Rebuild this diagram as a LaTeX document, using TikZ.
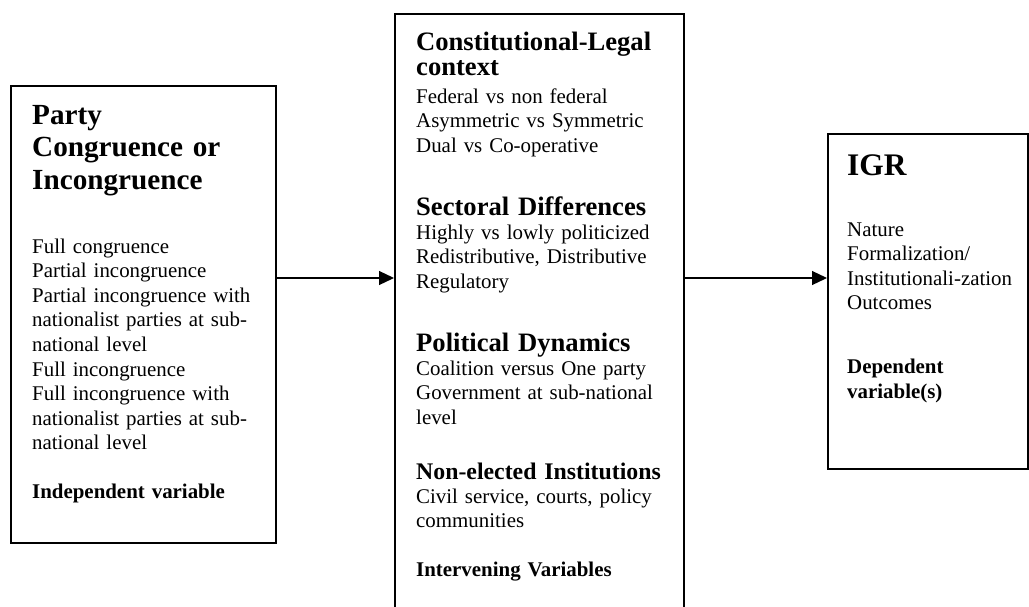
\documentclass[tikz,border=0pt]{standalone}
\usepackage{fontspec}
\setmainfont{Liberation Serif}
\usetikzlibrary{arrows.meta}

\begin{document}
\begin{tikzpicture}[x=1pt, y=-1pt,
    box/.style={draw, line width=1.6pt, inner sep=0pt, anchor=north west},
    txt/.style={anchor=base west, inner sep=0pt, align=left, font=\fontsize{20.9}{24.6}\selectfont},
    head/.style={txt, font=\fontsize{26.6}{25}\selectfont\bfseries},
    note/.style={txt, font=\fontsize{20.9}{25}\selectfont\bfseries},
    link/.style={line width=1.2pt, -{Triangle[length=15pt, width=14pt]}}]
    % page frame
    \path[use as bounding box] (0,0) rectangle (1029,606);
    \clip (0,0) rectangle (1029,606);

    % the three boxes
    \node[box, minimum width=265, minimum height=457] (party) at (10,85) {};
    \node[box, minimum width=289, minimum height=610] (ctx) at (394,13) {};
    \node[box, minimum width=200, minimum height=335] (igr) at (827,133) {};

    % independent variable
    \node[txt, text width=240, font=\fontsize{29.2}{32.5}\selectfont\bfseries] (partyhead) at (32,124)
        {Party\\Congruence or\\Incongruence};
    \node[txt, text width=240] (partylist) at (32,253)
        {Full congruence\\Partial incongruence\\Partial incongruence with\\nationalist parties at sub-\\national level\\Full incongruence\\Full incongruence with\\nationalist parties at sub-\\national level};
    \node[note, text width=240] (partynote) at (32,498) {Independent variable};

    % intervening variables
    \node[head, text width=265] (clhead) at (416,50) {Constitutional-Legal\\context};
    \node[txt, text width=265] (cllist) at (416,103)
        {Federal vs non federal\\Asymmetric vs Symmetric\\Dual vs Co-operative};
    \node[head, text width=265] (sdhead) at (416,215) {Sectoral Differences};
    \node[txt, text width=265] (sdlist) at (416,239)
        {Highly vs lowly politicized\\Redistributive, Distributive\\Regulatory};
    \node[head, text width=265] (pdhead) at (416,351) {Political Dynamics};
    \node[txt, text width=265] (pdlist) at (416,375)
        {Coalition versus One party\\Government at sub-national\\level};
    \node[head, text width=265, font=\fontsize{23.8}{25}\selectfont\bfseries] (nehead) at (416,479)
        {Non-elected Institutions};
    \node[txt, text width=265] (nelist) at (416,503) {Civil service, courts, policy\\communities};
    \node[note, text width=265] (ivnote) at (416,576) {Intervening Variables};

    % dependent variable
    \node[txt, text width=178, font=\fontsize{31.4}{32}\selectfont\bfseries] (igrhead) at (847,175) {IGR};
    \node[txt, text width=178] (igrlist) at (847,236)
        {Nature\\Formalization/\\Institutionali-zation\\Outcomes};
    \node[note, text width=178] (igrnote) at (847,373) {Dependent\\variable(s)};

    % arrows
    \coordinate (lvl) at (0,278);
    \draw[link] (party.east |- lvl) -- (ctx.west |- lvl);
    \draw[link] (ctx.east |- lvl) -- (igr.west |- lvl);
\end{tikzpicture}
\end{document}
